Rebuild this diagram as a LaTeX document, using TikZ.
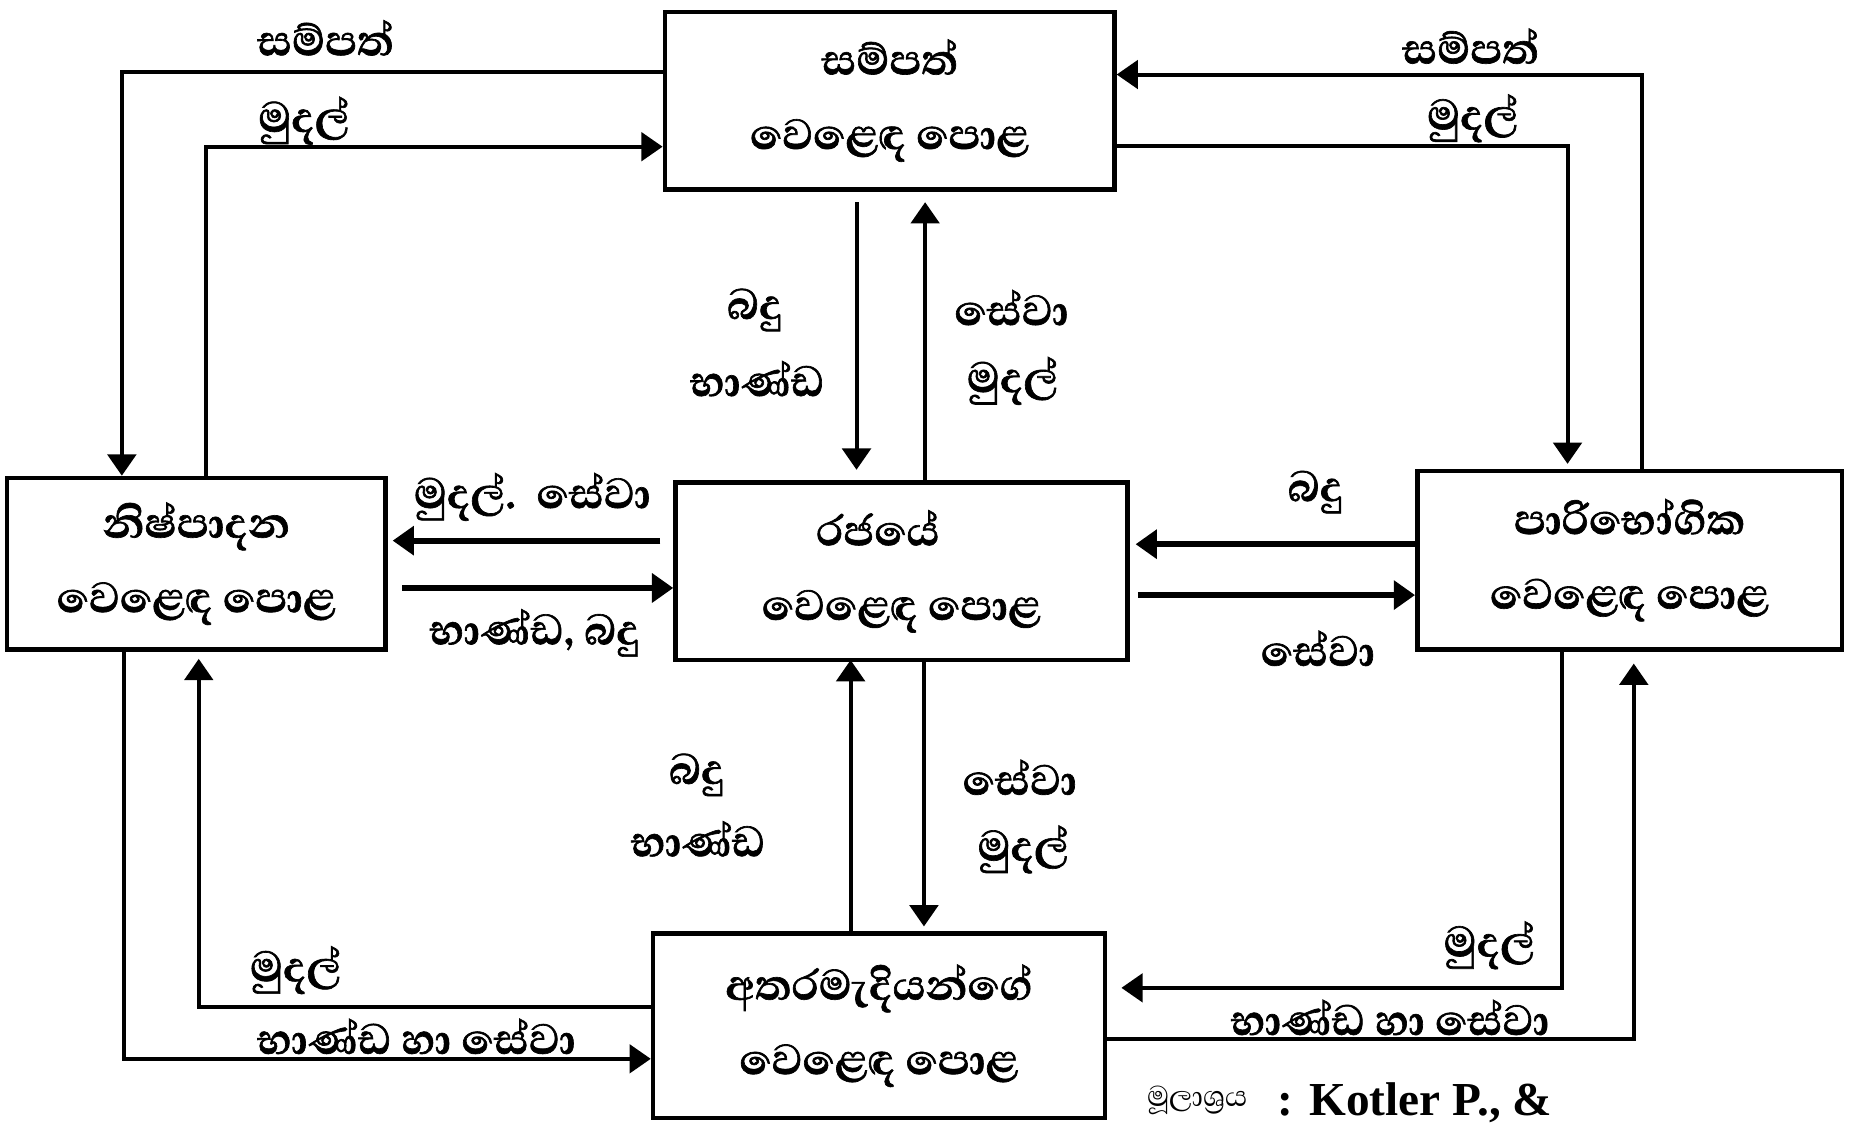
\documentclass[tikz,border=0pt]{standalone}
\usepackage{fontspec}
\setmainfont{Liberation Serif}
\newfontfamily\sinfont[Script=Sinhala,BoldFeatures={FakeBold=1.2}]{Abhaya Libre}
\usetikzlibrary{arrows.meta}
\newcommand\stxt{\sinfont\bfseries\fontsize{46}{63}\selectfont}
\begin{document}
\begin{tikzpicture}[x=1pt,y=-1pt,
  >={Triangle[length=18pt,width=24pt]},
  box/.style={draw,line width=3.8pt,inner sep=0pt,align=center,font=\stxt},
  lbl/.style={inner sep=0pt,font=\stxt},
  ln/.style={line width=3.4pt},
  thk/.style={line width=5.2pt}]
\useasboundingbox (0,0) rectangle (1568,950);
% boxes
\node[box,minimum width=380pt,minimum height=150pt] (T) at (752,85) {සම්පත්\\වෙළෙඳ පොළ};
\node[box,minimum width=320pt,minimum height=145pt] (L) at (166,476.5) {නිෂ්පාදන\\වෙළෙඳ පොළ};
\node[box,minimum width=382pt,minimum height=150pt] (C) at (762,483) {රජයේ\hspace*{40pt}\\වෙළෙඳ පොළ};
\node[box,minimum width=359pt,minimum height=151pt] (R) at (1377.5,473.5) {පාරිභෝගික\\වෙළෙඳ පොළ};
\node[box,minimum width=382pt,minimum height=156pt] (B) at (743,867) {අතරමැදියන්ගේ\\වෙළෙඳ පොළ};
% top-left
\draw[ln,->] (T.west |- 0,61) -- (103,61) -- (103,0 |- L.north);
\draw[ln,->] (174,0 |- L.north) -- (174,124) -- (T.west |- 0,124);
\node[lbl] (tl1) at (275,32) {සම්පත්};
\node[lbl] (tl2) at (257,102) {මුදල්};
% top-right
\draw[ln,->] (1388,0 |- R.north) -- (1388,63) -- (T.east |- 0,63);
\draw[ln,->,shorten >=4pt] (T.east |- 0,123) -- (1325,123) -- (1325,0 |- R.north);
\node[lbl] (tr1) at (1243,39) {සම්පත්};
\node[lbl] (tr2) at (1245,100) {මුදල්};
% top <-> centre
\draw[ln,->,shorten <=9pt,shorten >=9pt] (724,0 |- T.south) -- (724,0 |- C.north);
\draw[ln,->,shorten >=9pt] (782,0 |- C.north) -- (782,0 |- T.south);
\node[lbl] (tc1) at (638,262) {බදු};
\node[lbl] (tc2) at (640,320) {භාණ්ඩ};
\node[lbl] (tc3) at (855,260) {සේවා};
\node[lbl] (tc4) at (856,322) {මුදල්};
% left <-> centre
\draw[thk,->,shorten <=11pt,shorten >=4pt] (C.west |- 0,457) -- (L.east |- 0,457);
\draw[thk,->,shorten <=12pt] (L.east |- 0,497) -- (C.west |- 0,497);
\node[lbl] (lc1) at (450,420) {මුදල්.\ \ සේවා};
\node[lbl] (lc2) at (452,535) {භාණ්ඩ, බදු};
% right <-> centre
\draw[thk,->,shorten >=5pt] (R.west |- 0,460) -- (C.east |- 0,460);
\draw[thk,->,shorten <=7pt] (C.east |- 0,503) -- (R.west |- 0,503);
\node[lbl] (rc1) at (1112,416) {බදු};
\node[lbl] (rc2) at (1114,548) {සේවා};
% bottom <-> centre
\draw[ln,->,shorten >=-2pt] (719,0 |- B.north) -- (719,0 |- C.south);
\draw[ln,->,shorten >=4pt] (781,0 |- C.south) -- (781,0 |- B.north);
\node[lbl] (bc1) at (589,655) {බදු};
\node[lbl] (bc2) at (590,709) {භාණ්ඩ};
\node[lbl] (bc3) at (862,657) {සේවා};
\node[lbl] (bc4) at (865,718) {මුදල්};
% bottom-left
\draw[ln,->,shorten >=6pt] (B.west |- 0,851) -- (168,851) -- (168,0 |- L.south);
\draw[ln,->] (105,0 |- L.south) -- (105,895) -- (B.west |- 0,895);
\node[lbl] (bl1) at (250,820) {මුදල්};
\node[lbl] (bl2) at (352,876) {භාණ්ඩ හා සේවා};
% bottom-right
\draw[ln,->,shorten >=12pt] (1320,0 |- R.south) -- (1320,835) -- (B.east |- 0,835);
\draw[ln,->,shorten >=10pt] (B.east |- 0,878) -- (1381,878) -- (1381,0 |- R.south);
\node[lbl] (br1) at (1259,799) {මුදල්};
\node[lbl] (br2) at (1175,860) {භාණ්ඩ හා සේවා};
% source
\node[inner sep=0pt,font=\sinfont\fontsize{31}{31}\selectfont] (srcs) at (1012,930) {මූලාශ්‍රය};
\node[inner sep=0pt,anchor=base west,font=\bfseries\fontsize{40}{42}\selectfont] (srce) at (1080,943) {: Kotler P., \&};
\end{tikzpicture}
\end{document}
